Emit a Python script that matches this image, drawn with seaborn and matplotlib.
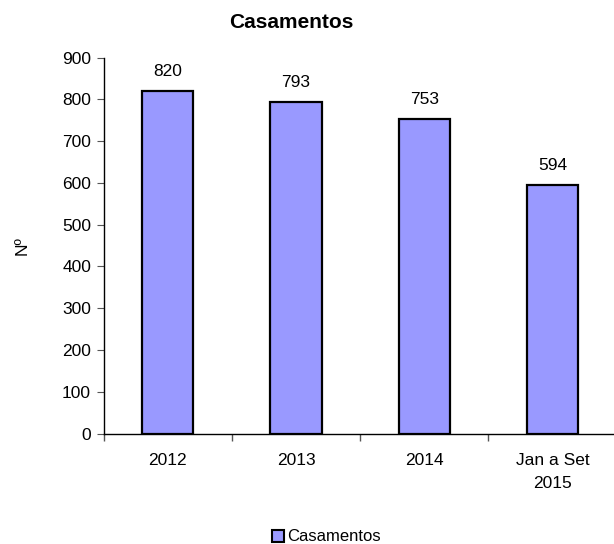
import matplotlib
matplotlib.use("Agg")
import matplotlib.pyplot as plt
import seaborn as sns
import pandas as pd
from matplotlib.patches import Patch

categories = ["2012", "2013", "2014", "Jan a Set\n2015"]
values = [820, 793, 753, 594]
series_name = "Casamentos"
y_ticks = [0, 100, 200, 300, 400, 500, 600, 700, 800, 900]

df = pd.DataFrame({"periodo": categories, "valor": values})

sns.set_style("white")
plt.rcParams["font.family"] = ["Liberation Sans", "DejaVu Sans"]
plt.rcParams["text.color"] = "black"
plt.rcParams["axes.labelcolor"] = "black"
plt.rcParams["xtick.labelcolor"] = "black"
plt.rcParams["ytick.labelcolor"] = "black"

fig = plt.figure(figsize=(6.14, 5.44), dpi=100)
ax = fig.add_axes([0.1686, 0.203, 0.836, 0.691])

bar_color = "#9999FF"
sns.barplot(data=df, x="periodo", y="valor", color=bar_color, width=0.4,
            edgecolor="black", linewidth=1.6, saturation=1, ax=ax)

for i, v in enumerate(values):
    ax.annotate(str(v), (i, v), xytext=(0, 9), textcoords="offset points",
                ha="center", va="bottom", fontsize=12.5)

ax.set_ylim(0, 900)
ax.set_yticks(y_ticks)
ax.set_xlim(-0.5, 3.5)
ax.set_xticks(range(len(categories)))
ax.set_xticklabels(categories, fontsize=12.5, linespacing=1.65)
ax.set_xticks([-0.5, 0.5, 1.5, 2.5], minor=True)
ax.tick_params(axis="x", which="major", bottom=True, length=0, pad=14)
ax.tick_params(axis="x", which="minor", bottom=True, length=5, direction="out",
               color="#555555", width=1)
ax.tick_params(axis="y", length=5, direction="out", labelsize=12.5, left=True,
               color="#555555", pad=4)

ax.set_xlabel("")
ax.set_ylabel("Nº", fontsize=12.5, labelpad=23)
fig.suptitle("Casamentos", x=291 / 614, y=1 - 22 / 544, va="center",
             fontsize=15, fontweight="bold")

sns.despine(ax=ax)
for s in ["left", "bottom"]:
    ax.spines[s].set_color("black")
    ax.spines[s].set_linewidth(1.0)

handle = Patch(facecolor=bar_color, edgecolor="black", linewidth=1.5)
fig.legend([handle], [series_name], loc="center", bbox_to_anchor=(326 / 614, 0.013),
           frameon=False, fontsize=12, handlelength=0.75, handleheight=0.75,
           handletextpad=0.15, borderpad=0)

fig.savefig("out.png", dpi=100)
